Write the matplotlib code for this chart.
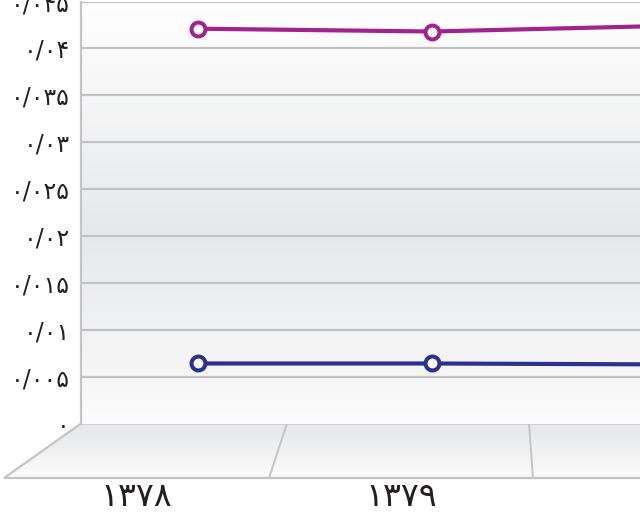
import numpy as np
import matplotlib
matplotlib.use("Agg")
import matplotlib.pyplot as plt
from matplotlib.patches import Polygon
from matplotlib.colors import LinearSegmentedColormap

plt.rcParams["font.family"] = ["DejaVu Sans"]

# ---- data ----
years = ["۱۳۷۸", "۱۳۷۹", "۱۳۸۰"]
series_purple = [0.0421, 0.0418, 0.0424]
series_blue = [0.0064, 0.0064, 0.0063]
yticks = [0, 0.005, 0.01, 0.015, 0.02, 0.025, 0.03, 0.035, 0.04, 0.045]
ytick_labels = ["۰", "۰/۰۰۵", "۰/۰۱", "۰/۰۱۵", "۰/۰۲", "۰/۰۲۵",
                "۰/۰۳", "۰/۰۳۵", "۰/۰۴", "۰/۰۴۵"]

# ---- palette ----
PURPLE = "#A3238E"
BLUE = "#2B3190"
GRID = "#C2C2C6"
EDGE = "#C4C4C6"
INK = "#231F20"

W, H = 640, 517
fig = plt.figure(figsize=(W / 100, H / 100), dpi=100)
fig.patch.set_facecolor("white")

# layout in pixels (from top-left)
wall_left, wall_bottom, wall_top = 81, 423.5, 1.5
cat_step = 234.0
first_cat = 198.0

ax = fig.add_axes([wall_left / W, (H - wall_bottom) / H,
                   (W - wall_left) / W, (wall_bottom - wall_top) / H])
x0 = -(first_cat - wall_left) / cat_step
x1 = x0 + (W - wall_left) / cat_step
ax.set_xlim(x0, x1)
ax.set_ylim(0, 0.045)

# wall gradient (light - grey - light)
wall_cmap = LinearSegmentedColormap.from_list(
    "wall", [(0, "#FBFBFB"), (0.45, "#E7E8EA"), (1, "#FFFFFF")])
grad = np.linspace(0, 1, 256).reshape(-1, 1)
ax.imshow(grad, aspect="auto", cmap=wall_cmap, origin="lower",
          extent=[x0, x1, 0, 0.045], zorder=0)

for v in yticks[1:]:
    ax.axhline(v, color=GRID, lw=1.6, zorder=1)

for s in ["top", "right", "bottom"]:
    ax.spines[s].set_visible(False)
ax.spines["left"].set_color(EDGE)
ax.spines["left"].set_linewidth(1.6)

xs = np.arange(len(years))
ax.plot(xs, series_purple, color=PURPLE, lw=3.0, marker="o", ms=10,
        mfc="white", mec=PURPLE, mew=2.9, zorder=4, clip_on=True)
ax.plot(xs, series_blue, color=BLUE, lw=3.0, marker="o", ms=10,
        mfc="white", mec=BLUE, mew=2.9, zorder=4, clip_on=True)

ax.set_xticks([])
ax.set_yticks(yticks)
ax.set_yticklabels(ytick_labels, fontsize=17, color=INK)
ax.tick_params(axis="y", length=0, pad=8)

# ---- floor (overlay axes in pixel coordinates) ----
ov = fig.add_axes([0, 0, 1, 1], zorder=-1)
ov.set_xlim(0, W)
ov.set_ylim(H, 0)
ov.axis("off")

floor_front = 478
floor_pts = [(wall_left, wall_bottom), (W + 5, wall_bottom),
             (W + 5, floor_front), (4, floor_front)]
floor_cmap = LinearSegmentedColormap.from_list("floor", ["#FBFBFB", "#E6E7E9"])
img = ov.imshow(np.linspace(0, 1, 128).reshape(-1, 1), aspect="auto",
                cmap=floor_cmap, origin="lower",
                extent=[0, W + 5, floor_front, wall_bottom], zorder=1)
poly = Polygon(floor_pts, closed=True, fc="none", ec=EDGE, lw=1.6, zorder=2)
ov.add_patch(poly)
img.set_clip_path(poly)
ov.set_xlim(0, W)
ov.set_ylim(H, 0)

# floor dividers (back x, front x)
div_back = [287, 529]
div_front = [269, 533]
for xb, xf in zip(div_back, div_front):
    ov.plot([xb, xf], [wall_bottom, floor_front], color=EDGE, lw=1.4, zorder=2)

# category labels centered on the front edge segments
front_edges = [4] + div_front + [div_front[-1] + (div_front[-1] - div_front[-2])]
for i, lab in enumerate(years):
    cx = (front_edges[i] + front_edges[i + 1]) / 2 + (8 if i == 2 else 0)
    ov.text(cx, 497, lab, ha="center", va="center", fontsize=24, color=INK,
            clip_on=False)

fig.savefig("out.png", dpi=100, facecolor="white")
